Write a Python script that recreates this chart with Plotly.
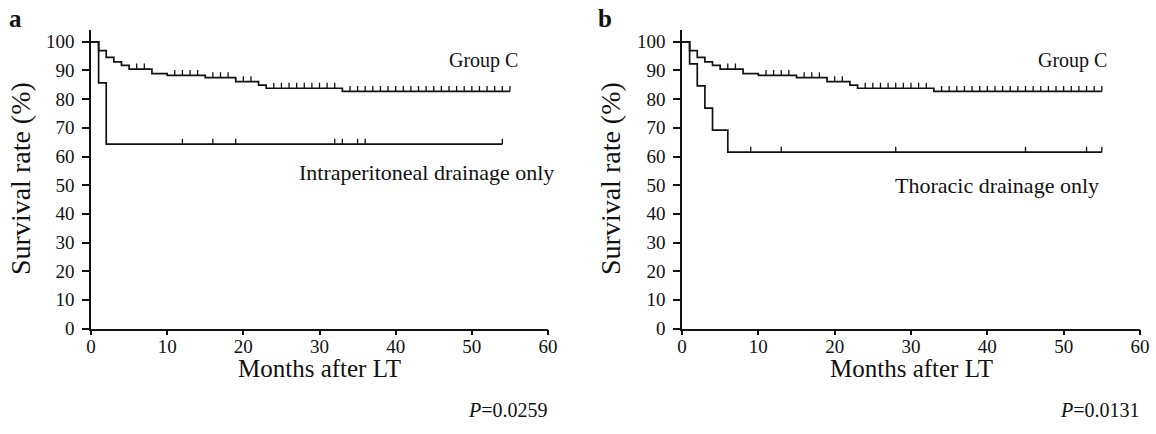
import plotly.graph_objects as go

# ---------------- data ----------------
month_ticks = [0, 10, 20, 30, 40, 50, 60]
survival_ticks = [0, 10, 20, 30, 40, 50, 60, 70, 80, 90, 100]

# Group C (same cohort in both panels)
groupC_times = [0, 1, 2, 3, 4, 5, 8, 10, 15, 19, 22, 23, 33, 55]
groupC_surv = [100, 96.9, 94.6, 93.0, 91.8, 90.5, 88.9, 88.3, 87.5, 86.1, 84.9, 83.8, 82.7, 82.7]
groupC_censor = [6, 7, 11, 12, 13, 14, 16, 17, 18, 20, 21,
                 24, 25, 26, 27, 28, 29, 30, 31, 32,
                 34, 35, 36, 37, 38, 39, 40, 41, 42, 43, 44,
                 45, 46, 47, 48, 49, 50, 51, 52, 53, 54, 55]

# Panel a: intraperitoneal drainage only
ip_times = [0, 1, 2, 54]
ip_surv = [100, 85.7, 64.3, 64.3]
ip_censor = [12, 16, 19, 32, 33, 35, 36, 54]

# Panel b: thoracic drainage only
th_times = [0, 1, 2, 3, 4, 6, 55]
th_surv = [100, 92.3, 84.6, 76.9, 69.2, 61.5, 61.5]
th_censor = [9, 13, 28, 45, 53, 55]

p_values = ["0.0259", "0.0131"]
panel_letters = ["a", "b"]
group_labels = ["Intraperitoneal drainage only", "Thoracic drainage only"]

# ---------------- style ----------------
FONT = "Liberation Serif"
INK = "#111111"
LW = 1.7
CENSOR_H = 1.9  # height of censor tick, in survival-% units


def value_at(times, surv, t):
    v = surv[0]
    for ti, si in zip(times, surv):
        if ti <= t:
            v = si
    return v


def censor_segments(times, surv, censor):
    xs, ys = [], []
    for t in censor:
        v = value_at(times, surv, t)
        xs += [t, t, None]
        ys += [v, v + CENSOR_H, None]
    return xs, ys


fig = go.Figure()

panels = [
    ("x", "y", ip_times, ip_surv, ip_censor),
    ("x2", "y2", th_times, th_surv, th_censor),
]
for xa, ya, lt, ls, lc in panels:
    for times, surv, cens, name in [
        (groupC_times, groupC_surv, groupC_censor, "Group C"),
        (lt, ls, lc, "other"),
    ]:
        fig.add_trace(go.Scatter(
            x=times, y=surv, mode="lines", line=dict(color=INK, width=LW, shape="hv"),
            xaxis=xa, yaxis=ya, showlegend=False, hoverinfo="skip", name=name))
        cx, cy = censor_segments(times, surv, cens)
        fig.add_trace(go.Scatter(
            x=cx, y=cy, mode="lines", line=dict(color=INK, width=1.3),
            xaxis=xa, yaxis=ya, showlegend=False, hoverinfo="skip"))

W, H = 1156, 434


def px(xr):
    return xr / W


def py(yr):
    return 1 - yr / H


ax_common = dict(showline=True, linecolor=INK, linewidth=1.6, ticks="outside",
                 tickwidth=1.5, tickcolor=INK, showgrid=False, zeroline=False,
                 automargin=False,
                 tickfont=dict(family=FONT, size=19, color=INK))
x_common = dict(range=[0, 60], tickvals=month_ticks, ticklen=5, ticklabelstandoff=-5, **ax_common)
y_common = dict(range=[0, 104.3], tickvals=survival_ticks, ticklen=7, ticklabelstandoff=4,
                **ax_common)

ydom = [py(328.5), py(29.5)]
xdoms = [[px(91), px(548)], [px(682), px(1140)]]

fig.update_layout(
    template="none",
    width=W, height=H, margin=dict(l=0, r=0, t=0, b=0, pad=0, autoexpand=False),
    paper_bgcolor="white", plot_bgcolor="white",
    xaxis=dict(domain=xdoms[0], anchor="y", **x_common),
    yaxis=dict(domain=ydom, anchor="x", **y_common),
    xaxis2=dict(domain=xdoms[1], anchor="y2", **x_common),
    yaxis2=dict(domain=ydom, anchor="x2", **y_common),
)

ann = []
letter_x = [15, 605]
ytitle_x = [20, 610]
xtitle_x = [319.5, 911]
pval_x = [550, 1142]


def paper_text(text, xr, yr, size, xanchor="center", angle=0):
    return dict(text=text, x=px(xr), y=py(yr), xref="paper", yref="paper",
                xanchor=xanchor, yanchor="middle", showarrow=False, textangle=angle,
                font=dict(family=FONT, size=size, color=INK))


for i in range(2):
    ann.append(paper_text("<b>%s</b>" % panel_letters[i], letter_x[i], 19, 25))
    ann.append(paper_text("Survival rate (%)", ytitle_x[i], 179, 28, angle=-90))
    ann.append(paper_text("Months after LT", xtitle_x[i], 368, 25))
    ann.append(paper_text("<i>P</i>=%s" % p_values[i], pval_x[i], 410, 20, xanchor="right"))

sfx = ["", "2"]
gc_pos = [(51.5, 93.5), (51.2, 93.5)]
lbl_pos = [(44.0, 54.4), (41.3, 49.9)]
for i in range(2):
    ann.append(dict(text="Group C", x=gc_pos[i][0], y=gc_pos[i][1],
                    xref="x" + sfx[i], yref="y" + sfx[i], showarrow=False,
                    xanchor="center", yanchor="middle",
                    font=dict(family=FONT, size=20, color=INK)))
    ann.append(dict(text=group_labels[i], x=lbl_pos[i][0], y=lbl_pos[i][1],
                    xref="x" + sfx[i], yref="y" + sfx[i], showarrow=False,
                    xanchor="center", yanchor="middle",
                    font=dict(family=FONT, size=22, color=INK)))

fig.update_layout(annotations=ann)
# remove the browser's default 8 px body margin so the figure fills the window
fig.write_html("out.html", config={"displayModeBar": False},
               post_script="document.body.style.margin='0';")
